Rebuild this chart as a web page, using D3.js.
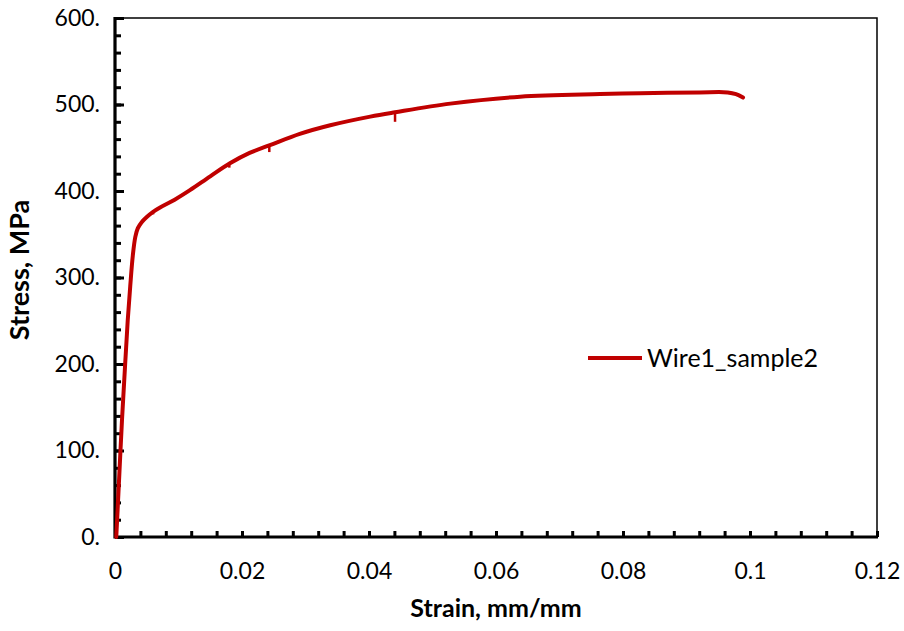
<!DOCTYPE html>
<html><head><meta charset="utf-8">
<script src="https://cdn.jsdelivr.net/npm/d3@7"></script>
<style>
html,body{margin:0;padding:0;background:#fff;}
svg{display:block;font-family:Lato,"Open Sans",sans-serif;}
</style></head>
<body><svg id="c" width="904" height="631"></svg>
<script>
// ---- data ----
const strain = [0.0002,0.0006,0.0011,0.0016,0.0020,0.0024,0.0028,0.0032,0.0036,0.0042,0.0050,0.0060,0.0071,0.0094,0.0118,0.0150,0.0181,0.0212,0.0244,0.0291,0.0339,0.0402,0.0441,0.0528,0.0638,0.0764,0.0827,0.0921,0.0965,0.0978,0.0989];
const stress = [0,60,135,200,250,290,325,347,357,364,370,376,381,390,401,417,432,444,453,466,476,486,491,501,509,512,513,514,514,512,508];
// small downward spikes in the record: strain, top, bottom
const spikeStrain = [0.0060,0.0180,0.0243,0.0441];
const spikeTop    = [376,432,453,491];
const spikeBottom = [373,427,445,480];
const xTicks = [0,0.02,0.04,0.06,0.08,0.1,0.12];
const yTicks = [0,100,200,300,400,500,600];
const seriesName = "Wire1_sample2";

const svg = d3.select("#c");
const L=115, R=877, T=18, B=537;
const x = d3.scaleLinear().domain([0,0.12]).range([L,R]);
const y = d3.scaleLinear().domain([0,600]).range([B,T]);
const RED = "#C00000";

// frame top/right
svg.append("path").attr("d",`M${L},${T}H${R}V${B}`).attr("fill","none").attr("stroke","#000").attr("stroke-width",1.5);

// minor ticks
const yMinor = d3.range(0,601,20);
const xMinor = d3.range(0,0.1201,0.004);
svg.append("g").attr("transform",`translate(${L},0)`)
  .call(d3.axisLeft(y).tickValues(yMinor).tickSize(-6).tickFormat(""))
  .call(g=>{g.select(".domain").remove();g.selectAll("line").attr("stroke","#000").attr("stroke-width",3);});
svg.append("g").attr("transform",`translate(0,${B})`)
  .call(d3.axisBottom(x).tickValues(xMinor).tickSize(-6).tickFormat(""))
  .call(g=>{g.select(".domain").remove();g.selectAll("line").attr("stroke","#000").attr("stroke-width",3);});

// major axes
const ya = svg.append("g").attr("transform",`translate(${L},0)`)
  .call(d3.axisLeft(y).tickValues(yTicks).tickSize(-9).tickPadding(15).tickFormat(d=>d+"."));
ya.select(".domain").remove();
ya.selectAll("line").attr("stroke","#000").attr("stroke-width",3);
ya.selectAll("text").attr("font-size",23).attr("fill","#000").attr("font-family","Lato");

const xa = svg.append("g").attr("transform",`translate(0,${B})`)
  .call(d3.axisBottom(x).tickValues(xTicks).tickSize(-6).tickPadding(26).tickFormat(d=>String(+d.toFixed(2))));
xa.select(".domain").remove();
xa.selectAll("line").attr("stroke","#000").attr("stroke-width",3);
xa.selectAll("text").attr("font-size",23).attr("fill","#000").attr("font-family","Lato");

// axis lines
svg.append("path").attr("d",`M${L},${T-1}V${B}H${R+1}`).attr("fill","none").attr("stroke","#000").attr("stroke-width",3.2);

// series
const pts = strain.map((s,i)=>[s,stress[i]]);
svg.append("path").datum(pts)
  .attr("d",d3.line().x(d=>x(d[0])).y(d=>y(d[1])).curve(d3.curveCatmullRom.alpha(0.5)))
  .attr("fill","none").attr("stroke",RED).attr("stroke-width",4).attr("stroke-linejoin","round").attr("stroke-linecap","round");
svg.append("g").selectAll("line").data(spikeStrain).join("line")
  .attr("x1",d=>x(d)).attr("x2",d=>x(d))
  .attr("y1",(d,i)=>y(spikeTop[i])).attr("y2",(d,i)=>y(spikeBottom[i]))
  .attr("stroke",RED).attr("stroke-width",2.5);

// legend
svg.append("line").attr("x1",588).attr("x2",642).attr("y1",358).attr("y2",358).attr("stroke",RED).attr("stroke-width",4);
svg.append("text").attr("x",647).attr("y",367).attr("font-size",25).attr("fill","#000").text(seriesName);

// titles
svg.append("text").attr("x",496).attr("y",617).attr("text-anchor","middle").attr("font-size",25).attr("font-weight","bold").text("Strain, mm/mm");
svg.append("text").attr("transform","translate(29,270) rotate(-90)").attr("text-anchor","middle").attr("font-size",27).attr("font-weight","bold").text("Stress, MPa");
</script></body></html>
